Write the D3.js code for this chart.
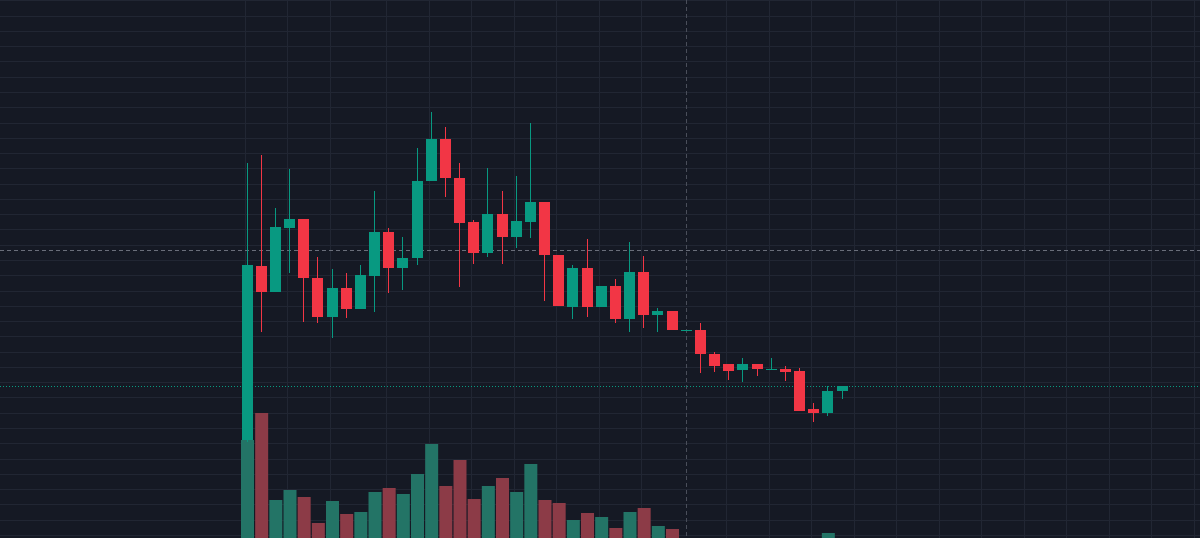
<!DOCTYPE html>
<html>
<head>
<meta charset="utf-8">
<script src="https://cdn.jsdelivr.net/npm/d3@7"></script>
<style>
    html, body { margin: 0; padding: 0; background: #151924; overflow: hidden; }
    svg { display: block; }
</style>
</head>
<body>
<svg id="chart" width="1200" height="538"></svg>
<script>
// bar data, one entry per candle (price units)
var opens  = [1.60, 3.34, 3.08, 3.72, 3.81, 3.22, 2.83, 3.12, 2.91, 3.24, 3.68, 3.32, 3.42, 4.19, 4.61, 4.22, 3.78, 3.47, 3.86, 3.63, 3.78, 3.98,
              3.45, 2.93, 3.32, 2.93, 3.14, 2.81, 3.28, 2.85, 2.89, 2.70, 2.70, 2.46, 2.36, 2.30, 2.36, 2.31, 2.31, 2.29, 1.91, 1.87, 2.09];
var highs  = [4.37, 4.45, 3.92, 4.31, 3.81, 3.43, 3.31, 3.27, 3.35, 4.09, 3.72, 3.63, 4.52, 4.88, 4.73, 4.37, 3.80, 4.32, 4.09, 4.24, 4.77, 3.98,
              3.45, 3.35, 3.61, 3.14, 3.21, 3.58, 3.44, 2.92, 2.89, 2.70, 2.77, 2.48, 2.36, 2.42, 2.36, 2.42, 2.34, 2.32, 1.97, 2.14, 2.14];
var lows   = [1.58, 2.68, 3.08, 3.27, 2.78, 2.77, 2.62, 2.82, 2.91, 2.88, 3.07, 3.10, 3.35, 4.19, 4.03, 3.13, 3.36, 3.43, 3.36, 3.52, 3.62, 2.99,
              2.94, 2.81, 2.83, 2.93, 2.77, 2.68, 2.72, 2.68, 2.70, 2.70, 2.27, 2.28, 2.20, 2.18, 2.24, 2.31, 2.19, 1.89, 1.78, 1.84, 2.01];
var closes = [3.35, 3.08, 3.73, 3.81, 3.22, 2.83, 3.12, 2.91, 3.25, 3.68, 3.32, 3.42, 4.19, 4.61, 4.22, 3.77, 3.47, 3.86, 3.63, 3.79, 3.98, 3.45,
              2.94, 3.32, 2.93, 3.14, 2.81, 3.28, 2.85, 2.89, 2.70, 2.70, 2.46, 2.34, 2.29, 2.36, 2.31, 2.31, 2.28, 1.89, 1.87, 2.09, 2.14];
var volumes = [120, 147, 60, 70, 63, 37, 59, 46, 48, 68, 72, 66, 86, 116, 74, 100, 61, 74, 82, 68, 96, 60,
               57, 40, 47, 43, 32, 48, 52, 34, 31, 12, 18, 10, 8, 9, 7, 6, 8, 16, 14, 27, 15];

// where the time scale puts its vertical grid lines (bar index)
var timeTicks = [0, 3, 6, 10, 13, 16, 19, 22, 25, 28, 34, 37, 40, 43, 46, 49, 52, 55, 58, 61, 64, 67];
var crosshairBar = 31, crosshairPrice = 3.50;
var gridStep = 0.1527;

var UP = "#089981", DOWN = "#f23645";
var UP_VOL = "#237466", DOWN_VOL = "#8c3b47";

var svg = d3.select("#chart");
var W = 1200, H = 538;

var bars = opens.map(function (o, i) {
    return { i: i, o: o, h: highs[i], l: lows[i], c: closes[i], v: volumes[i] };
});

var x = d3.scaleLinear().domain([0, bars.length - 1]).range([247.5, 842.5]);
var y = d3.scaleLinear().domain([0, 6]).range([600, 0]);
var yVol = d3.scaleLinear().domain([0, 150]).range([560, 410]);

// grid
var grid = svg.append("g").attr("id", "grid");
grid.selectAll("line.h")
    .data(d3.range(5.996, -0.5, -gridStep))
    .enter().append("line")
    .attr("class", "h")
    .attr("x1", 0).attr("x2", W)
    .attr("y1", function (d) { return Math.round(y(d)) + 0.5; })
    .attr("y2", function (d) { return Math.round(y(d)) + 0.5; })
    .attr("stroke", "#212633").attr("stroke-width", 1);

grid.selectAll("line.v")
    .data(timeTicks)
    .enter().append("line")
    .attr("class", "v")
    .attr("y1", 0).attr("y2", H)
    .attr("x1", function (d) { return Math.round(x(d)) - 2.5; })
    .attr("x2", function (d) { return Math.round(x(d)) - 2.5; })
    .attr("stroke", "#212633").attr("stroke-width", 1);

// volume
svg.append("g").attr("id", "volume")
    .selectAll("rect")
    .data(bars)
    .enter().append("rect")
    .attr("x", function (d) { return x(d.i) - 6.5; })
    .attr("width", 13)
    .attr("y", function (d) { return yVol(d.v); })
    .attr("height", function (d) { return yVol(0) - yVol(d.v); })
    .attr("fill", function (d) { return d.c >= d.o ? UP_VOL : DOWN_VOL; });

// crosshair
svg.append("line")
    .attr("x1", 0).attr("x2", W)
    .attr("y1", Math.round(y(crosshairPrice)) + 0.5).attr("y2", Math.round(y(crosshairPrice)) + 0.5)
    .attr("stroke", "#6a6e7a").attr("stroke-width", 1).attr("stroke-dasharray", "4,3");
svg.append("line")
    .attr("x1", Math.round(x(crosshairBar)) - 0.5).attr("x2", Math.round(x(crosshairBar)) - 0.5)
    .attr("y1", 0).attr("y2", H)
    .attr("stroke", "#4a4e5a").attr("stroke-width", 1).attr("stroke-dasharray", "4,3");

// last price line
var last = bars[bars.length - 1];
svg.append("line")
    .attr("x1", 0).attr("x2", W)
    .attr("y1", Math.round(y(last.c)) + 0.5).attr("y2", Math.round(y(last.c)) + 0.5)
    .attr("stroke", UP).attr("stroke-width", 1).attr("stroke-dasharray", "1,2");

// candles
var candles = svg.append("g").attr("id", "candles")
    .selectAll("g")
    .data(bars)
    .enter().append("g");

candles.append("line")
    .attr("x1", function (d) { return Math.round(x(d.i)) - 0.5; })
    .attr("x2", function (d) { return Math.round(x(d.i)) - 0.5; })
    .attr("y1", function (d) { return y(d.h); })
    .attr("y2", function (d) { return y(d.l); })
    .attr("stroke", function (d) { return d.c >= d.o ? UP : DOWN; })
    .attr("stroke-width", 1);

candles.append("rect")
    .attr("x", function (d) { return Math.round(x(d.i)) - 6; })
    .attr("width", 11)
    .attr("y", function (d) { return y(Math.max(d.o, d.c)); })
    .attr("height", function (d) { return Math.max(1, Math.abs(y(d.o) - y(d.c))); })
    .attr("fill", function (d) { return d.c >= d.o ? UP : DOWN; });
</script>
</body>
</html>
